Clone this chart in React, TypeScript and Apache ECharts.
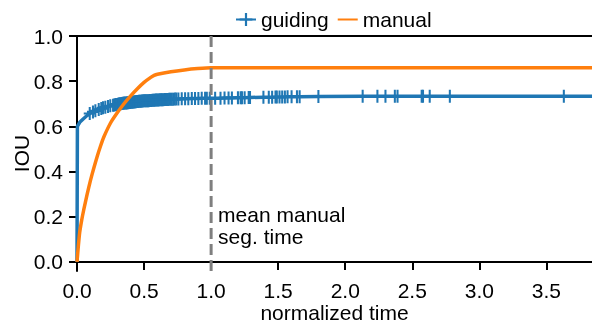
import React, { useEffect, useRef } from 'react';
import * as echarts from 'echarts';

// ---- data ----
const guidingStartX = [0, 0.003, 0.02, 0.05, 0.075];
const guidingStartY = [0, 0.6, 0.618, 0.635, 0.648];

const guidingX = [
  0.095, 0.119, 0.137, 0.162, 0.181, 0.194, 0.211, 0.231, 0.248, 0.269,
  0.278, 0.285, 0.291, 0.298, 0.306, 0.312, 0.319, 0.327, 0.333, 0.341,
  0.348, 0.354, 0.362, 0.369, 0.375, 0.383, 0.39, 0.397, 0.404, 0.412,
  0.418, 0.426, 0.433, 0.439, 0.447, 0.455, 0.461, 0.468, 0.476, 0.483,
  0.49, 0.497, 0.505, 0.512, 0.519, 0.527, 0.534, 0.541, 0.549, 0.556,
  0.563, 0.571, 0.578, 0.586, 0.593, 0.601, 0.609, 0.617, 0.626, 0.634,
  0.643, 0.652, 0.66, 0.669, 0.678, 0.688, 0.697, 0.707, 0.718, 0.729,
  0.74, 0.756, 0.781, 0.806, 0.83, 0.856, 0.88, 0.905, 0.93, 0.955,
  0.968, 0.99, 1.03, 1.07, 1.1, 1.13, 1.155, 1.2, 1.22, 1.23,
  1.25, 1.28, 1.29, 1.39, 1.43, 1.455, 1.48, 1.49, 1.51, 1.53,
  1.55, 1.57, 1.6, 1.64, 1.66, 1.8, 2.13, 2.24, 2.3, 2.37,
  2.39, 2.57, 2.58, 2.63, 2.78, 3.63,
];
const guidingY = [
  0.657, 0.664, 0.669, 0.675, 0.679, 0.682, 0.685, 0.688, 0.691, 0.694,
  0.695, 0.696, 0.697, 0.697, 0.698, 0.699, 0.7, 0.7, 0.701, 0.702,
  0.702, 0.703, 0.704, 0.704, 0.705, 0.705, 0.706, 0.706, 0.707, 0.707,
  0.708, 0.708, 0.709, 0.709, 0.71, 0.71, 0.711, 0.711, 0.711, 0.712,
  0.712, 0.713, 0.713, 0.713, 0.714, 0.714, 0.714, 0.715, 0.715, 0.715,
  0.716, 0.716, 0.716, 0.717, 0.717, 0.717, 0.717, 0.718, 0.718, 0.718,
  0.718, 0.719, 0.719, 0.719, 0.719, 0.72, 0.72, 0.72, 0.72, 0.721,
  0.721, 0.721, 0.722, 0.722, 0.722, 0.723, 0.723, 0.723, 0.724, 0.724,
  0.724, 0.724, 0.725, 0.725, 0.726, 0.726, 0.726, 0.727, 0.727, 0.727,
  0.727, 0.728, 0.728, 0.729, 0.729, 0.729, 0.73, 0.73, 0.73, 0.73,
  0.73, 0.731, 0.731, 0.731, 0.731, 0.732, 0.733, 0.733, 0.733, 0.733,
  0.733, 0.733, 0.733, 0.733, 0.733, 0.733,
];
const guidingEndX = [3.85];
const guidingEndY = [0.733];

const manualX = [0, 0.01, 0.02, 0.035, 0.05, 0.075, 0.1, 0.125, 0.15, 0.175, 0.2, 0.25, 0.3, 0.35, 0.4, 0.45, 0.5, 0.55, 0.575, 0.6, 0.7, 0.8, 0.9, 1.0, 3.85];
const manualY = [0, 0.07, 0.13, 0.185, 0.23, 0.298, 0.36, 0.415, 0.466, 0.512, 0.553, 0.615, 0.66, 0.7, 0.735, 0.767, 0.795, 0.817, 0.826, 0.831, 0.842, 0.85, 0.856, 0.86, 0.86];

const meanManualTime = 1.0;
const xTicks = [0, 0.5, 1.0, 1.5, 2.0, 2.5, 3.0, 3.5];
const yTicks = [0, 0.2, 0.4, 0.6, 0.8, 1.0];
const xRange = [0, 3.84];
const yRange = [-0.04, 1.0];

const FONT = "'Liberation Sans', Arial, sans-serif";
const FS = 21;
const BLUE = '#1f77b4';
const ORANGE = '#ff7f0e';
const PLUS = 'path://M-1.7,-10h3.4v20h-3.4z M-10,-1.7h20v3.4h-20z';

export default function App() {
  const ref = useRef<HTMLDivElement>(null);
  useEffect(() => {
    if (!ref.current) return;
    const chart = echarts.init(ref.current, undefined, { renderer: 'svg' });

    const guidingData: any[] = [];
    guidingStartX.forEach((x, i) => guidingData.push({ value: [x, guidingStartY[i]], symbol: 'none' }));
    guidingX.forEach((x, i) => guidingData.push({ value: [x, guidingY[i]] }));
    guidingEndX.forEach((x, i) => guidingData.push({ value: [x, guidingEndY[i]], symbol: 'none' }));
    const manualData = manualX.map((x, i) => [x, manualY[i]]);

    const axisLine = { show: true, lineStyle: { color: '#000', width: 2 } };
    chart.setOption({
      animation: false,
      textStyle: { fontFamily: FONT },
      grid: { left: 77, right: 0, top: 36, bottom: 52, containLabel: false, outerBoundsMode: 'none' },
      legend: {
        data: ['guiding', { name: 'manual', itemStyle: { opacity: 0 } }],
        left: 235,
        top: 9,
        padding: 0,
        itemWidth: 20,
        itemHeight: 16,
        itemGap: 8,
        textStyle: { fontSize: FS, fontFamily: FONT, color: '#000' },
      },
      xAxis: [
        {
          type: 'value',
          min: xRange[0],
          max: xRange[1],
          name: 'normalized time',
          nameLocation: 'middle',
          nameGap: 31,
          nameMoveOverlap: false,
          nameTextStyle: { fontSize: FS, color: '#000', fontFamily: FONT, lineHeight: 20 },
          axisLine,
          axisTick: { show: true, length: 8, lineStyle: { width: 2, color: '#000' }, customValues: xTicks },
          axisLabel: {
            fontSize: FS, color: '#000', margin: 9, fontFamily: FONT, lineHeight: 20,
            customValues: xTicks,
            formatter: (v: number) => v.toFixed(1),
          },
          splitLine: { show: false },
        },
        {
          type: 'value',
          position: 'top',
          min: xRange[0],
          max: xRange[1],
          axisLine,
          axisTick: { show: false },
          axisLabel: { show: false },
          splitLine: { show: false },
        },
      ],
      yAxis: {
        type: 'value',
        min: yRange[0],
        max: yRange[1],
        name: 'IOU',
        nameLocation: 'middle',
        nameGap: 45,
        nameMoveOverlap: false,
        nameTextStyle: { fontSize: FS, color: '#000', fontFamily: FONT },
        axisLine,
        axisTick: { show: true, length: 8, lineStyle: { width: 2, color: '#000' }, customValues: yTicks },
        axisLabel: {
          fontSize: FS, color: '#000', margin: 14, fontFamily: FONT,
          customValues: yTicks,
          formatter: (v: number) => v.toFixed(1),
        },
        splitLine: { show: false },
      },
      series: [
        {
          name: 'guiding',
          type: 'line',
          data: guidingData,
          symbol: PLUS,
          symbolSize: [12, 13],
          showAllSymbol: true,
          lineStyle: { color: BLUE, width: 3.5 },
          itemStyle: { color: BLUE },
          z: 2,
        },
        {
          name: 'manual',
          type: 'line',
          data: manualData,
          symbol: 'none',
          smooth: 0.2,
          lineStyle: { color: ORANGE, width: 3.5 },
          itemStyle: { color: ORANGE },
          z: 3,
        },
        {
          name: 'mean',
          type: 'line',
          data: [[meanManualTime, yRange[0]], [meanManualTime, yRange[1]]],
          symbol: 'none',
          lineStyle: { color: '#7f7f7f', width: 3, type: [11, 5] },
          z: 4,
          markPoint: {
            symbol: 'circle',
            symbolSize: 0,
            data: [{ coord: [meanManualTime, 0.16] }],
            label: {
              show: true,
              position: 'right',
              distance: 7,
              formatter: 'mean manual\nseg. time',
              fontSize: FS,
              lineHeight: 22,
              color: '#000',
              align: 'left',
              fontFamily: FONT,
            },
          },
        },
      ],
    });
    return () => chart.dispose();
  }, []);
  return <div ref={ref} style={{ position: 'fixed', left: 0, top: 0, width: 592, height: 323 }} />;
}
